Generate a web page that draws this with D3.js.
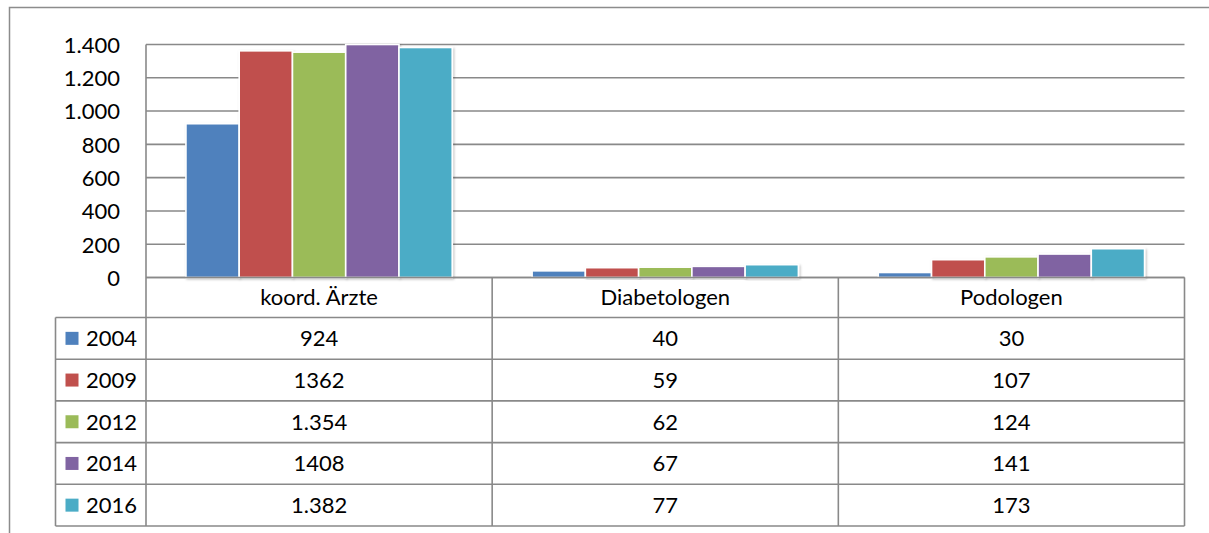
<!DOCTYPE html>
<html>
<head>
<meta charset="utf-8">
<script src="https://cdn.jsdelivr.net/npm/d3@7"></script>
<style>
  html, body { margin: 0; padding: 0; background: #fff; }
  svg { display: block; }
  text { font-family: Lato, "Open Sans", sans-serif; fill: #000; }
</style>
</head>
<body>
<svg id="chart" width="1209" height="533"></svg>
<script>
// Categories and series (values as printed in the data table)
const categories = ["koord. Ärzte", "Diabetologen", "Podologen"];
const years = ["2004", "2009", "2012", "2014", "2016"];
const labels2004 = ["924", "40", "30"];
const labels2009 = ["1362", "59", "107"];
const labels2012 = ["1.354", "62", "124"];
const labels2014 = ["1408", "67", "141"];
const labels2016 = ["1.382", "77", "173"];
const yTicks = [0, 200, 400, 600, 800, 1000, 1200, 1400];
const colors = ["#4F81BD", "#C0504D", "#9BBB59", "#8064A2", "#4BACC6"];

const seriesLabels = [labels2004, labels2009, labels2012, labels2014, labels2016];
// German thousands separator "." is stripped to get the numeric value
const parseNum = s => +s.replace(/\./g, "");
const series = years.map((y, i) => ({
  year: y,
  color: colors[i],
  labels: seriesLabels[i],
  values: seriesLabels[i].map(parseNum)
}));

const svg = d3.select("#chart");
const gridColor = "#898989";

// layout
const plotLeft = 146, plotRight = 1184.5;
const plotTop = 44.5, plotBottom = 277.5;
const tableLeft = 55.5;
const headerBottom = 317.5;
const rowH = 41.7;

const y = d3.scaleLinear().domain([0, 1400]).range([plotBottom, plotTop]).clamp(true);
const x = d3.scaleBand().domain(categories).range([plotLeft, plotRight]).padding(0);
// Excel-style gap width of 150%: 5 bars + 1.5 bars of gap per category
const xInner = d3.scaleBand().domain(years).range([0, x.bandwidth()])
  .paddingInner(0).paddingOuter(0.75);

// drop shadow for bars
const defs = svg.append("defs");
const f = defs.append("filter").attr("id", "shadow")
  .attr("x", "-10%").attr("y", "-10%").attr("width", "130%").attr("height", "130%");
f.append("feDropShadow").attr("dx", 1.2).attr("dy", 1.2).attr("stdDeviation", 1.2)
  .attr("flood-color", "#000").attr("flood-opacity", 0.25);

// outer frame
svg.append("path")
  .attr("d", `M9.5,533 V7.5 H1209`)
  .attr("fill", "none").attr("stroke", "#8c8c8c").attr("stroke-width", 1.5);

// gridlines
svg.append("g").selectAll("line").data(yTicks).join("line")
  .attr("x1", plotLeft).attr("x2", plotRight)
  .attr("y1", d => y(d)).attr("y2", d => y(d))
  .attr("stroke", gridColor).attr("stroke-width", 1.6);

// y axis tick labels
const yAxis = d3.axisLeft(y).tickValues(yTicks).tickSize(0).tickPadding(26)
  .tickFormat(d => d3.format(",")(d).replace(/,/g, "."));
const ya = svg.append("g").attr("transform", `translate(${plotLeft},0)`).call(yAxis);
ya.select(".domain").remove();
ya.selectAll("text").attr("font-size", 22).attr("font-family", "Lato, sans-serif")
  .attr("fill", "#000").attr("dy", "0.36em");

// bars
const barG = svg.append("g");
series.forEach(s => {
  barG.append("g").selectAll("rect").data(categories).join("rect")
    .attr("x", (c) => x(c) + xInner(s.year))
    .attr("width", xInner.bandwidth())
    .attr("y", (c, i) => y(s.values[i]))
    .attr("height", (c, i) => plotBottom - y(s.values[i]))
    .attr("fill", s.color)
    .attr("stroke", "#fff").attr("stroke-width", 1.6)
    .attr("filter", "url(#shadow)");
});

// re-draw zero line on top of bars
svg.append("line")
  .attr("x1", plotLeft).attr("x2", plotRight)
  .attr("y1", y(0)).attr("y2", y(0))
  .attr("stroke", gridColor).attr("stroke-width", 1.6);

// data table
const tableG = svg.append("g");
const rowTop = i => headerBottom + i * rowH;
const tableBottom = rowTop(series.length);

// horizontal row lines
const hLines = d3.range(series.length + 1).map(rowTop);
tableG.selectAll("line.h").data(hLines).join("line").attr("class", "h")
  .attr("x1", tableLeft).attr("x2", plotRight)
  .attr("y1", d => d).attr("y2", d => d)
  .attr("stroke", gridColor).attr("stroke-width", 1.6);

// vertical column lines
const colEdges = categories.map(c => x(c)).concat([plotRight]);
tableG.selectAll("line.v").data(colEdges).join("line").attr("class", "v")
  .attr("x1", d => d).attr("x2", d => d)
  .attr("y1", (d, i) => i === 0 ? plotTop : plotBottom)
  .attr("y2", tableBottom)
  .attr("stroke", gridColor).attr("stroke-width", 1.6);
tableG.append("line")
  .attr("x1", tableLeft).attr("x2", tableLeft)
  .attr("y1", headerBottom).attr("y2", tableBottom)
  .attr("stroke", gridColor).attr("stroke-width", 1.6);

// category header labels
tableG.selectAll("text.cat").data(categories).join("text").attr("class", "cat")
  .attr("x", c => x(c) + x.bandwidth() / 2)
  .attr("y", (plotBottom + headerBottom) / 2)
  .attr("dy", "0.36em")
  .attr("text-anchor", "middle").attr("font-size", 22)
  .text(c => c);

// legend keys + values per row
series.forEach((s, r) => {
  const cy = rowTop(r) + rowH / 2;
  tableG.append("rect")
    .attr("x", 65.5).attr("y", cy - 6.5).attr("width", 13).attr("height", 13)
    .attr("fill", s.color);
  tableG.append("text")
    .attr("x", 86).attr("y", cy).attr("dy", "0.36em")
    .attr("font-size", 22).text(s.year);
  tableG.selectAll(null).data(categories).join("text")
    .attr("x", c => x(c) + x.bandwidth() / 2)
    .attr("y", cy).attr("dy", "0.36em")
    .attr("text-anchor", "middle").attr("font-size", 22)
    .text((c, i) => s.labels[i]);
});
</script>
</body>
</html>
